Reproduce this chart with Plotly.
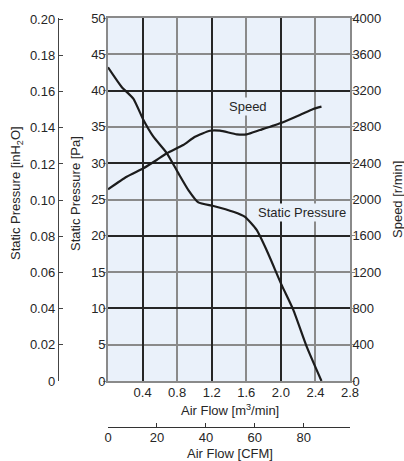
import plotly.graph_objects as go

# ---- data ----
flow_sp = [0.0, 0.158, 0.293, 0.41, 0.525, 0.68, 0.815, 0.93, 1.045, 1.22, 1.45, 1.585, 1.72, 1.836, 2.01, 2.144, 2.30, 2.47]
pressure_pa = [43.2, 40.5, 38.9, 35.95, 33.65, 31.4, 28.6, 26.3, 24.6, 24.1, 23.3, 22.6, 20.8, 18.0, 13.2, 9.8, 4.7, 0.0]

flow_speed = [0.0, 0.216, 0.41, 0.563, 0.68, 0.87, 1.007, 1.18, 1.296, 1.49, 1.605, 1.76, 2.01, 2.22, 2.375, 2.47]
speed_rpm = [2113, 2251, 2344, 2435, 2509, 2601, 2692, 2758, 2758, 2718, 2718, 2766, 2846, 2931, 2997, 3023]

x_ticks = [0.4, 0.8, 1.2, 1.6, 2.0, 2.4, 2.8]
x_ticktext = ["0.4", "0.8", "1.2", "1.6", "2.0", "2.4", "2.8"]
pa_ticks = [0, 5, 10, 15, 20, 25, 30, 35, 40, 45, 50]
inh2o_ticks = [0, 0.02, 0.04, 0.06, 0.08, 0.10, 0.12, 0.14, 0.16, 0.18, 0.20]
inh2o_ticktext = ["0", "0.02", "0.04", "0.06", "0.08", "0.10", "0.12", "0.14", "0.16", "0.18", "0.20"]
rpm_ticks = [0, 400, 800, 1200, 1600, 2000, 2400, 2800, 3200, 3600, 4000]
cfm_ticks = [0, 20, 40, 60, 80]

X_MAX = 2.8
PA_MAX = 50
RPM_MAX = 4000
PA_PER_INH2O = 249.089
CFM_PER_M3MIN = 35.3147

W, H = 404, 461
FONT = "Liberation Sans, Arial, sans-serif"
TXT = "#262626"
LINE = "#1c1c1c"
GRID_GRAY = "#8a8a8a"
GRID_DARK = "#262626"
BG = "#eaf1fa"

x0, x1 = 108 / W, 350 / W
y0, y1 = 1 - 381 / H, 1 - 18 / H

fig = go.Figure()

fig.add_trace(go.Scatter(x=flow_sp, y=pressure_pa, mode="lines",
                         line=dict(color=LINE, width=2.2, shape="spline", smoothing=0.5),
                         xaxis="x", yaxis="y", showlegend=False, hoverinfo="skip"))
fig.add_trace(go.Scatter(x=flow_speed, y=speed_rpm, mode="lines",
                         line=dict(color=LINE, width=2.2, shape="spline", smoothing=0.5),
                         xaxis="x", yaxis="y2", showlegend=False, hoverinfo="skip"))
# dummy traces so that auxiliary axes are drawn
for xa, ya in [("x2", "y"), ("x3", "y"), ("x", "y3"), ("x", "y4")]:
    fig.add_trace(go.Scatter(x=[0], y=[0], xaxis=xa, yaxis=ya, mode="markers",
                             marker=dict(size=0.1, opacity=0),
                             showlegend=False, hoverinfo="skip"))

tickfont = dict(family=FONT, size=13, color=TXT)

fig.update_layout(
    width=W, height=H,
    margin=dict(l=0, r=0, t=0, b=0),
    paper_bgcolor="white",
    plot_bgcolor=BG,
    font=dict(family=FONT, size=13, color=TXT),
    xaxis=dict(domain=[x0, x1], range=[0, X_MAX], tickvals=x_ticks, ticktext=x_ticktext,
               showgrid=True, gridcolor=GRID_GRAY, gridwidth=1.6,
               showline=True, linecolor=GRID_GRAY, linewidth=1.6, mirror=True,
               ticks="", ticklabelstandoff=-1, tickfont=tickfont,
               zeroline=False, anchor="y", automargin=False),
    xaxis2=dict(overlaying="x", anchor="free", position=1 - 427 / H, side="bottom",
                range=[0, X_MAX * CFM_PER_M3MIN], tickvals=cfm_ticks,
                showgrid=False, zeroline=False, showline=True, linecolor="#333", linewidth=1.4,
                ticks="inside", ticklen=4, tickcolor="#333", tickwidth=1.2, tickfont=tickfont,
                ticklabelstandoff=-2, automargin=False),
    xaxis3=dict(overlaying="x", anchor="y", range=[0, X_MAX], tick0=0.4, dtick=0.8,
                showgrid=True, gridcolor=GRID_DARK, gridwidth=1.6, showticklabels=False,
                ticks="", zeroline=False, showline=False, automargin=False),
    yaxis=dict(domain=[y0, y1], range=[0, PA_MAX], tickvals=pa_ticks,
               showgrid=True, gridcolor=GRID_GRAY, gridwidth=1.6,
               showline=True, linecolor=GRID_GRAY, linewidth=1.6,
               ticks="outside", ticklen=3, tickcolor=GRID_GRAY, tickwidth=1.4,
               ticklabelstandoff=-5,
               tickfont=tickfont, zeroline=False, anchor="x", automargin=False),
    yaxis2=dict(overlaying="y", side="right", anchor="x", range=[0, RPM_MAX], tickvals=rpm_ticks,
                showgrid=False, zeroline=False, showline=True, linecolor=GRID_GRAY, linewidth=1.6,
                ticks="outside", ticklen=3, tickcolor=GRID_GRAY, tickwidth=1.4, tickfont=tickfont,
                ticklabelstandoff=-5, automargin=False),
    yaxis3=dict(overlaying="y", anchor="free", position=58 / W, side="left",
                range=[0, PA_MAX / PA_PER_INH2O], tickvals=inh2o_ticks, ticktext=inh2o_ticktext,
                showgrid=False, zeroline=False, showline=True, linecolor="#444", linewidth=1.4,
                ticks="inside", ticklen=4, tickcolor="#444", tickwidth=1.2, tickfont=tickfont,
                automargin=False),
    yaxis4=dict(overlaying="y", anchor="x", range=[0, PA_MAX], tick0=0, dtick=10,
                showgrid=True, gridcolor=GRID_DARK, gridwidth=1.6, showticklabels=False,
                ticks="", zeroline=False, showline=False, automargin=False),
)

ann = []
# curve labels
ann.append(dict(x=1.616, y=3030, xref="x", yref="y2", text="Speed", showarrow=False,
                font=dict(family=FONT, size=13, color=TXT), bgcolor=BG, borderpad=1))
ann.append(dict(x=2.24, y=23.2, xref="x", yref="y", text="Static Pressure", showarrow=False,
                font=dict(family=FONT, size=13, color=TXT), bgcolor=BG, borderpad=1))
# axis titles
def title(x, y, text, angle=0):
    return dict(x=x / W, y=1 - y / H, xref="paper", yref="paper", xanchor="center",
                yanchor="middle", textangle=angle, text=text, showarrow=False, font=tickfont)

ann.append(title(229.7, 410, "Air Flow [m<sup>3</sup>/min]"))
ann.append(title(229.7, 453, "Air Flow [CFM]"))
ann.append(title(16, 193, "Static Pressure [inH<sub>2</sub>O]", -90))
ann.append(title(75, 194, "Static Pressure [Pa]", -90))
ann.append(title(397, 200, "Speed [r/min]", -90))
fig.update_layout(annotations=ann)

fig.write_html("out.html", config={"displayModeBar": False},
               post_script="document.body.style.margin='0';document.body.style.padding='0';"
                           "document.documentElement.style.overflow='hidden';")
